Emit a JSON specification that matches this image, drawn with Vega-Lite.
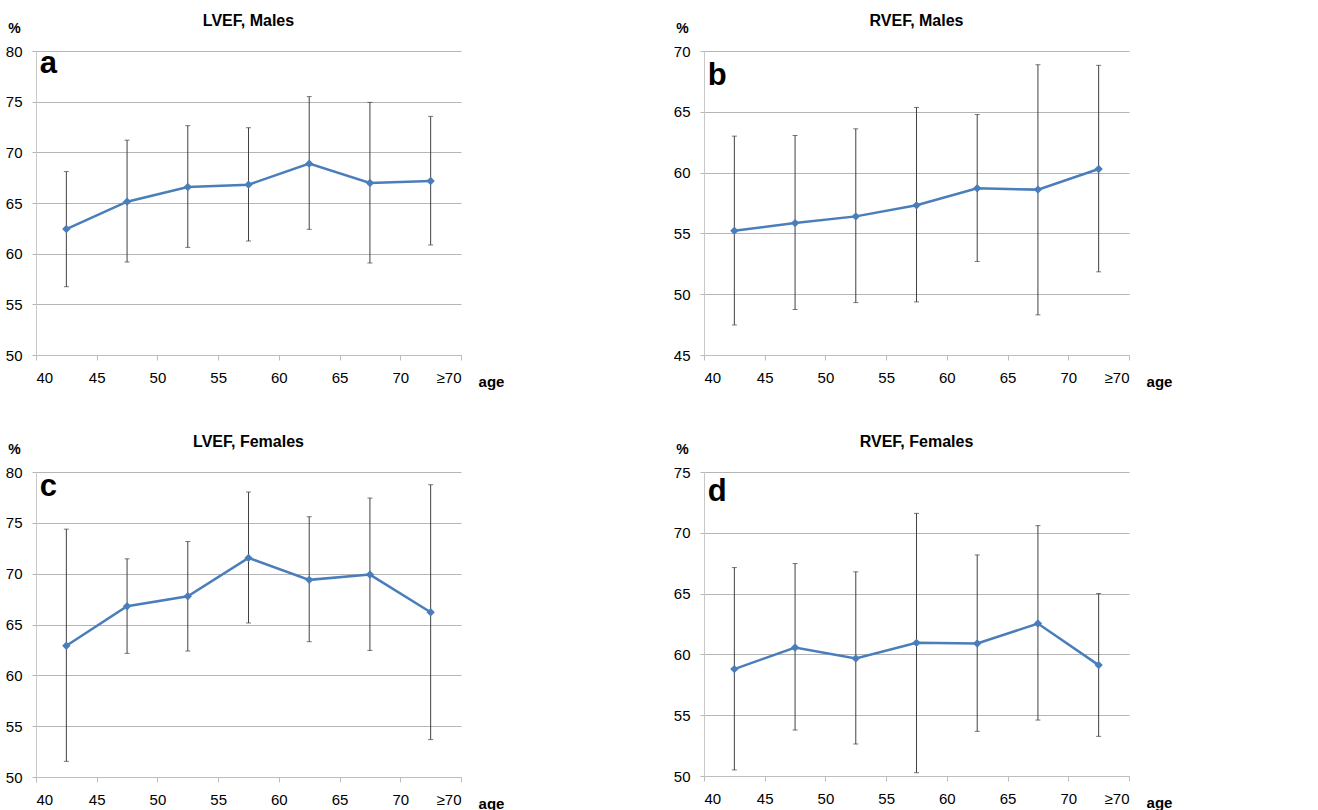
{
  "$schema": "https://vega.github.io/schema/vega-lite/v6.json",
  "background": "white",
  "padding": {"left": 5, "top": 13, "right": 5, "bottom": 5},
  "data": {"values": [
    {"panel": "a", "age": 42.5, "mean": 62.43, "lo": 56.74, "hi": 68.1},
    {"panel": "a", "age": 47.5, "mean": 65.13, "lo": 59.18, "hi": 71.2},
    {"panel": "a", "age": 52.5, "mean": 66.58, "lo": 60.62, "hi": 72.63},
    {"panel": "a", "age": 57.5, "mean": 66.81, "lo": 61.25, "hi": 72.43},
    {"panel": "a", "age": 62.5, "mean": 68.88, "lo": 62.4, "hi": 75.5},
    {"panel": "a", "age": 67.5, "mean": 66.97, "lo": 59.08, "hi": 74.93},
    {"panel": "a", "age": 72.5, "mean": 67.17, "lo": 60.86, "hi": 73.55},
    {"panel": "b", "age": 42.5, "mean": 55.22, "lo": 47.47, "hi": 63.0},
    {"panel": "b", "age": 47.5, "mean": 55.85, "lo": 48.74, "hi": 63.05},
    {"panel": "b", "age": 52.5, "mean": 56.4, "lo": 49.31, "hi": 63.6},
    {"panel": "b", "age": 57.5, "mean": 57.31, "lo": 49.37, "hi": 65.36},
    {"panel": "b", "age": 62.5, "mean": 58.71, "lo": 52.69, "hi": 64.78},
    {"panel": "b", "age": 67.5, "mean": 58.6, "lo": 48.3, "hi": 68.87},
    {"panel": "b", "age": 72.5, "mean": 60.3, "lo": 51.84, "hi": 68.82},
    {"panel": "c", "age": 42.5, "mean": 62.91, "lo": 51.54, "hi": 74.38},
    {"panel": "c", "age": 47.5, "mean": 66.79, "lo": 62.16, "hi": 71.46},
    {"panel": "c", "age": 52.5, "mean": 67.78, "lo": 62.39, "hi": 73.16},
    {"panel": "c", "age": 57.5, "mean": 71.55, "lo": 65.15, "hi": 78.03},
    {"panel": "c", "age": 62.5, "mean": 69.39, "lo": 63.31, "hi": 75.6},
    {"panel": "c", "age": 67.5, "mean": 69.91, "lo": 62.45, "hi": 77.44},
    {"panel": "c", "age": 72.5, "mean": 66.2, "lo": 53.68, "hi": 78.75},
    {"panel": "d", "age": 42.5, "mean": 58.79, "lo": 50.5, "hi": 67.14},
    {"panel": "d", "age": 47.5, "mean": 60.57, "lo": 53.78, "hi": 67.47},
    {"panel": "d", "age": 52.5, "mean": 59.67, "lo": 52.63, "hi": 66.79},
    {"panel": "d", "age": 57.5, "mean": 60.95, "lo": 50.27, "hi": 71.6},
    {"panel": "d", "age": 62.5, "mean": 60.9, "lo": 53.67, "hi": 68.18},
    {"panel": "d", "age": 67.5, "mean": 62.54, "lo": 54.6, "hi": 70.59},
    {"panel": "d", "age": 72.5, "mean": 59.12, "lo": 53.26, "hi": 65.01}
  ]},
  "spacing": 45,
  "vconcat": [
    {
      "bounds": "flush",
      "spacing": 243,
      "hconcat": [
        {
          "width": 425, "height": 304,
          "title": {"text": "LVEF, Males"},
          "transform": [{"filter": "datum.panel == 'a'"}],
          "layer": [
            {"mark": {"type": "rule", "color": "#404040", "strokeWidth": 1},
             "encoding": {"x": {"field": "age", "type": "quantitative", "scale": {"domain": [40, 75], "nice": false, "zero": false}, "axis": {"title": "age"}},
                          "y": {"field": "lo", "type": "quantitative", "scale": {"domain": [50, 80], "nice": false, "zero": false}, "axis": {"title": "%", "values": [50, 55, 60, 65, 70, 75, 80]}},
                          "y2": {"field": "hi"}}},
            {"mark": {"type": "tick", "orient": "horizontal", "size": 5, "thickness": 1, "color": "#404040"},
             "encoding": {"x": {"field": "age", "type": "quantitative"}, "y": {"field": "hi", "type": "quantitative"}}},
            {"mark": {"type": "tick", "orient": "horizontal", "size": 5, "thickness": 1, "color": "#404040"},
             "encoding": {"x": {"field": "age", "type": "quantitative"}, "y": {"field": "lo", "type": "quantitative"}}},
            {"mark": {"type": "line", "color": "#4a7ebb", "strokeWidth": 2.5, "point": {"shape": "diamond", "size": 70, "filled": true, "color": "#4a7ebb"}},
             "encoding": {"x": {"field": "age", "type": "quantitative"}, "y": {"field": "mean", "type": "quantitative"}}},
            {"transform": [{"filter": "datum.age == 42.5"}],
             "mark": {"type": "text", "fontSize": 31, "fontWeight": "bold", "font": "Liberation Sans", "align": "left", "baseline": "alphabetic", "color": "black"},
             "encoding": {"x": {"datum": 40.3}, "y": {"datum": 77.8}, "text": {"field": "panel"}}}
          ]
        },
        {
          "width": 425, "height": 304,
          "title": {"text": "RVEF, Males"},
          "transform": [{"filter": "datum.panel == 'b'"}],
          "layer": [
            {"mark": {"type": "rule", "color": "#404040", "strokeWidth": 1},
             "encoding": {"x": {"field": "age", "type": "quantitative", "scale": {"domain": [40, 75], "nice": false, "zero": false}, "axis": {"title": "age"}},
                          "y": {"field": "lo", "type": "quantitative", "scale": {"domain": [45, 70], "nice": false, "zero": false}, "axis": {"title": "%", "values": [45, 50, 55, 60, 65, 70]}},
                          "y2": {"field": "hi"}}},
            {"mark": {"type": "tick", "orient": "horizontal", "size": 5, "thickness": 1, "color": "#404040"},
             "encoding": {"x": {"field": "age", "type": "quantitative"}, "y": {"field": "hi", "type": "quantitative"}}},
            {"mark": {"type": "tick", "orient": "horizontal", "size": 5, "thickness": 1, "color": "#404040"},
             "encoding": {"x": {"field": "age", "type": "quantitative"}, "y": {"field": "lo", "type": "quantitative"}}},
            {"mark": {"type": "line", "color": "#4a7ebb", "strokeWidth": 2.5, "point": {"shape": "diamond", "size": 70, "filled": true, "color": "#4a7ebb"}},
             "encoding": {"x": {"field": "age", "type": "quantitative"}, "y": {"field": "mean", "type": "quantitative"}}},
            {"transform": [{"filter": "datum.age == 42.5"}],
             "mark": {"type": "text", "fontSize": 31, "fontWeight": "bold", "font": "Liberation Sans", "align": "left", "baseline": "alphabetic", "color": "black"},
             "encoding": {"x": {"datum": 40.3}, "y": {"datum": 67.2}, "text": {"field": "panel"}}}
          ]
        }
      ]
    },
    {
      "bounds": "flush",
      "spacing": 243,
      "hconcat": [
        {
          "width": 425, "height": 305,
          "title": {"text": "LVEF, Females"},
          "transform": [{"filter": "datum.panel == 'c'"}],
          "layer": [
            {"mark": {"type": "rule", "color": "#404040", "strokeWidth": 1},
             "encoding": {"x": {"field": "age", "type": "quantitative", "scale": {"domain": [40, 75], "nice": false, "zero": false}, "axis": {"title": "age"}},
                          "y": {"field": "lo", "type": "quantitative", "scale": {"domain": [50, 80], "nice": false, "zero": false}, "axis": {"title": "%", "values": [50, 55, 60, 65, 70, 75, 80]}},
                          "y2": {"field": "hi"}}},
            {"mark": {"type": "tick", "orient": "horizontal", "size": 5, "thickness": 1, "color": "#404040"},
             "encoding": {"x": {"field": "age", "type": "quantitative"}, "y": {"field": "hi", "type": "quantitative"}}},
            {"mark": {"type": "tick", "orient": "horizontal", "size": 5, "thickness": 1, "color": "#404040"},
             "encoding": {"x": {"field": "age", "type": "quantitative"}, "y": {"field": "lo", "type": "quantitative"}}},
            {"mark": {"type": "line", "color": "#4a7ebb", "strokeWidth": 2.5, "point": {"shape": "diamond", "size": 70, "filled": true, "color": "#4a7ebb"}},
             "encoding": {"x": {"field": "age", "type": "quantitative"}, "y": {"field": "mean", "type": "quantitative"}}},
            {"transform": [{"filter": "datum.age == 42.5"}],
             "mark": {"type": "text", "fontSize": 31, "fontWeight": "bold", "font": "Liberation Sans", "align": "left", "baseline": "alphabetic", "color": "black"},
             "encoding": {"x": {"datum": 40.3}, "y": {"datum": 77.6}, "text": {"field": "panel"}}}
          ]
        },
        {
          "width": 425, "height": 304,
          "title": {"text": "RVEF, Females"},
          "transform": [{"filter": "datum.panel == 'd'"}],
          "layer": [
            {"mark": {"type": "rule", "color": "#404040", "strokeWidth": 1},
             "encoding": {"x": {"field": "age", "type": "quantitative", "scale": {"domain": [40, 75], "nice": false, "zero": false}, "axis": {"title": "age"}},
                          "y": {"field": "lo", "type": "quantitative", "scale": {"domain": [50, 75], "nice": false, "zero": false}, "axis": {"title": "%", "values": [50, 55, 60, 65, 70, 75]}},
                          "y2": {"field": "hi"}}},
            {"mark": {"type": "tick", "orient": "horizontal", "size": 5, "thickness": 1, "color": "#404040"},
             "encoding": {"x": {"field": "age", "type": "quantitative"}, "y": {"field": "hi", "type": "quantitative"}}},
            {"mark": {"type": "tick", "orient": "horizontal", "size": 5, "thickness": 1, "color": "#404040"},
             "encoding": {"x": {"field": "age", "type": "quantitative"}, "y": {"field": "lo", "type": "quantitative"}}},
            {"mark": {"type": "line", "color": "#4a7ebb", "strokeWidth": 2.5, "point": {"shape": "diamond", "size": 70, "filled": true, "color": "#4a7ebb"}},
             "encoding": {"x": {"field": "age", "type": "quantitative"}, "y": {"field": "mean", "type": "quantitative"}}},
            {"transform": [{"filter": "datum.age == 42.5"}],
             "mark": {"type": "text", "fontSize": 31, "fontWeight": "bold", "font": "Liberation Sans", "align": "left", "baseline": "alphabetic", "color": "black"},
             "encoding": {"x": {"datum": 40.3}, "y": {"datum": 72.6}, "text": {"field": "panel"}}}
          ]
        }
      ]
    }
  ],
  "config": {
    "view": {"stroke": null},
    "font": "Liberation Sans, sans-serif",
    "title": {"fontSize": 16, "fontWeight": "bold", "font": "Liberation Sans, sans-serif", "color": "black", "anchor": "middle", "offset": -8},
    "axisX": {
      "values": [40, 45, 50, 55, 60, 65, 70, 75],
      "labelExpr": "datum.value == 75 ? '≥70' : datum.label",
      "grid": false,
      "domainColor": "#bdbdbd", "tickColor": "#bdbdbd", "tickSize": 5,
      "labelFontSize": 15, "labelColor": "black", "labelPadding": 10,
      "titleAngle": 0, "titleX": 455, "titleY": 31, "titleAlign": "center", "titleBaseline": "alphabetic",
      "titleFontSize": 15, "titleFontWeight": "bold", "titleColor": "black"
    },
    "axisY": {
      "grid": true, "gridColor": "#b5b5b5", "domainColor": "#c8c8c8", "tickColor": "#b5b5b5", "tickSize": 4,
      "labelFontSize": 15, "labelColor": "black", "labelPadding": 10,
      "titleAngle": 0, "titleX": -22, "titleY": -19, "titleAlign": "center", "titleBaseline": "alphabetic",
      "titleFontSize": 14, "titleFontWeight": "bold", "titleColor": "black"
    }
  }
}
